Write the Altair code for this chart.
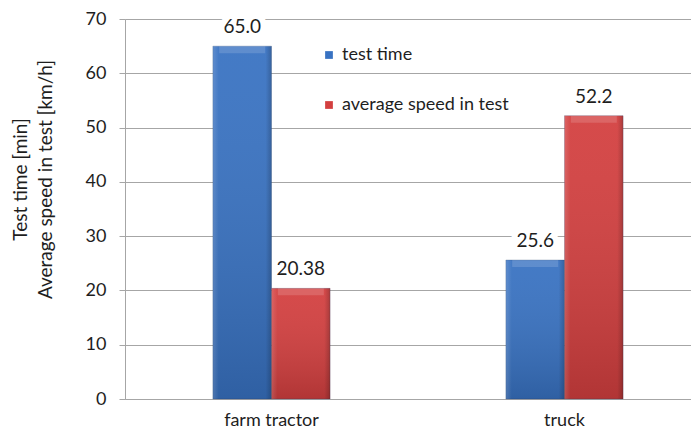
import altair as alt
import pandas as pd

categories = ["farm tractor", "truck"]
series = ["test time", "average speed in test"]
test_time = [65.0, 25.6]
avg_speed = [20.38, 52.2]
test_time_labels = ["65.0", "25.6"]
avg_speed_labels = ["20.38", "52.2"]
y_ticks = [0, 10, 20, 30, 40, 50, 60, 70]
y_title = ["Test time [min]", "Average speed in test [km/h]"]

rows = []
for i, c in enumerate(categories):
    rows.append({"category": c, "series": series[0], "value": test_time[i], "label": test_time_labels[i]})
    rows.append({"category": c, "series": series[1], "value": avg_speed[i], "label": avg_speed_labels[i]})
df = pd.DataFrame(rows)

FONT = "Lato"
GRID = "#a6a6a6"
TXT = "#1e1e1e"

x = alt.X(
    "category:N",
    sort=categories,
    scale=alt.Scale(range=[0, 586], paddingInner=0.6, paddingOuter=0.3),
    axis=alt.Axis(
        title=None, labelAngle=0, ticks=False, domainColor=GRID,
        labelFontSize=18, labelPadding=12, labelColor=TXT, labelFont=FONT,
    ),
)
xo = alt.XOffset("series:N", sort=series, scale=alt.Scale(paddingInner=0, paddingOuter=0))
y = alt.Y(
    "value:Q",
    scale=alt.Scale(domain=[0, 70], nice=False),
    axis=alt.Axis(
        values=y_ticks, title=y_title, titleFont=FONT, titleFontSize=19,
        titleFontWeight="normal", titleColor=TXT, titleLineHeight=25,
        titleAngle=270, titleBaseline="middle", titleX=-105, titleY=160,
        titleAlign="center",
        labelFont=FONT, labelFontSize=18, labelColor=TXT, labelPadding=13,
        tickSize=6, tickColor=GRID, domainColor=GRID, gridColor=GRID,
        grid=True, labelBaseline="middle",
    ),
)

base = alt.Chart(df)

halo = base.mark_text(
    dy=-19, baseline="middle", fontSize=19, font=FONT,
    stroke="white", strokeWidth=12, color="white",
).encode(x=x, xOffset=xo, y=y, text="label:N")

bars = base.mark_bar(stroke="#1f3a66", strokeWidth=0.5, strokeOpacity=0.5).encode(
    x=x, xOffset=xo, y=y,
    color=alt.Color(
        "series:N", sort=series,
        scale=alt.Scale(domain=series, range=["#3872c2", "#d33f3f"]),
        legend=alt.Legend(
            orient="none", legendX=195, legendY=27, title=None,
            symbolType="square", symbolSize=60, symbolStrokeWidth=0,
            labelFontSize=18, labelFont=FONT, labelColor=TXT,
            rowPadding=32, labelOffset=4, labelLimit=400,
        ),
    ),
)

vshade = base.mark_bar(
    fill=alt.LinearGradient(
        gradient="linear", x1=0, y1=0, x2=0, y2=1,
        stops=[
            alt.GradientStop(offset=0, color="rgba(255,255,255,0.06)"),
            alt.GradientStop(offset=1, color="rgba(0,0,0,0.16)"),
        ],
    )
).encode(x=x, xOffset=xo, y=y)

hshade = base.mark_bar(
    fill=alt.LinearGradient(
        gradient="linear", x1=0, y1=0, x2=1, y2=0,
        stops=[
            alt.GradientStop(offset=0, color="rgba(255,255,255,0.14)"),
            alt.GradientStop(offset=0.1, color="rgba(255,255,255,0)"),
            alt.GradientStop(offset=0.9, color="rgba(0,0,0,0)"),
            alt.GradientStop(offset=1, color="rgba(0,0,0,0.2)"),
        ],
    )
).encode(x=x, xOffset=xo, y=y)

bevel = base.mark_tick(
    thickness=7, color="white", opacity=0.15, yOffset=3.5, size=46,
).encode(x=x, xOffset=xo, y=y)

labels = base.mark_text(
    dy=-19, baseline="middle", fontSize=19, font=FONT, color=TXT,
).encode(x=x, xOffset=xo, y=y, text="label:N")

chart = alt.layer(halo, bars, vshade, hshade, bevel, labels).properties(
    width=566,
    height=380,
    autosize=alt.AutoSizeParams(type="none"),
    padding={"left": 117, "top": 11, "right": 0, "bottom": 32},
).configure_view(stroke=None).configure(background="white")

chart.save("out.html", embed_options={"renderer": "svg", "actions": False})
